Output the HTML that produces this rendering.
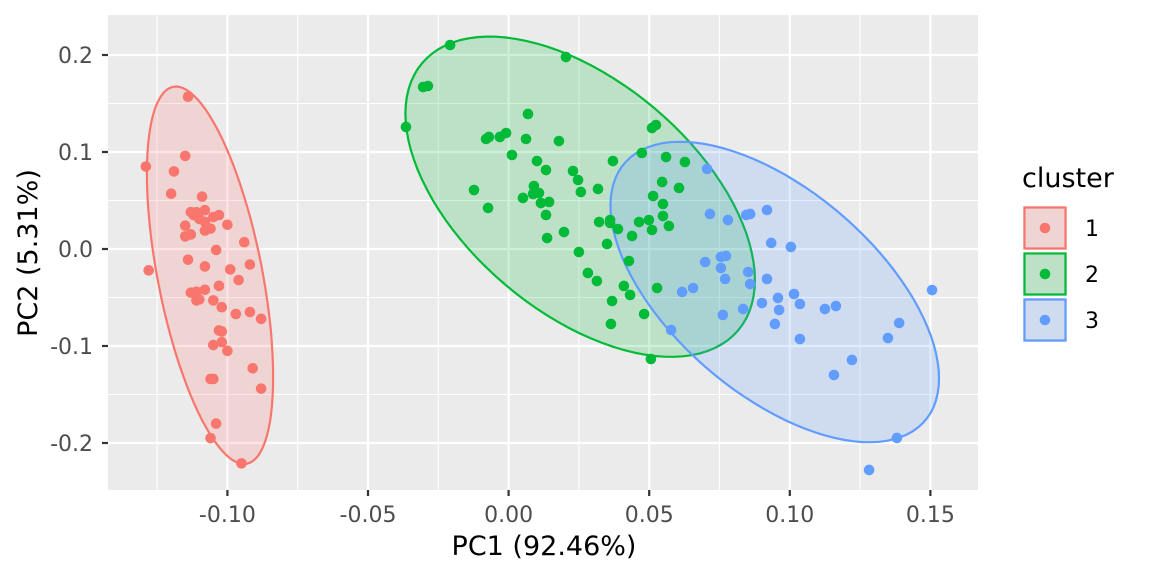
<!DOCTYPE html>
<html><head><meta charset="utf-8"><style>
body{margin:0;background:#fff;}
svg{display:block;font-family:"DejaVu Sans","Liberation Sans",sans-serif;}
</style></head><body>
<svg id="chart" width="1152" height="576">
<rect x="0" y="0" width="1152" height="576" fill="#fff"/>
<rect x="108" y="15" width="870" height="475" fill="#EBEBEB"/>
<g id="grid"></g>
<g id="ellipses"></g>
<g id="points"></g>
<g id="xticks"></g>
<g id="yticks"></g>
<text x="544" y="555" font-size="27" text-anchor="middle" fill="#000">PC1 (92.46%)</text>
<text transform="translate(37,253) rotate(-90)" font-size="27" text-anchor="middle" fill="#000">PC2 (5.31%)</text>
<g id="legend">
<text x="1022" y="187" font-size="27" fill="#000">cluster</text>
</g>
</svg>
<script>
const xTicks=[-0.10,-0.05,0.00,0.05,0.10,0.15];
const xTickLabels=["-0.10","-0.05","0.00","0.05","0.10","0.15"];
const yTicks=[-0.2,-0.1,0.0,0.1,0.2];
const yTickLabels=["-0.2","-0.1","0.0","0.1","0.2"];
const clusters=["1","2","3"];
const colors=["#F8766D","#00BA38","#619CFF"];
const c1x=[-0.114,-0.129,-0.115,-0.119,-0.120,-0.128,-0.113,-0.111,-0.109,-0.108,-0.110,-0.112,-0.115,-0.108,-0.105,-0.106,-0.103,-0.108,-0.100,-0.115,-0.113,-0.094,-0.104,-0.114,-0.099,-0.092,-0.108,-0.096,-0.103,-0.108,-0.111,-0.110,-0.105,-0.102,-0.097,-0.092,-0.088,-0.103,-0.102,-0.105,-0.102,-0.100,-0.091,-0.105,-0.106,-0.088,-0.104,-0.106,-0.095,-0.111,-0.113];
const c1y=[0.157,0.085,0.096,0.080,0.057,-0.022,0.038,0.038,0.054,0.040,0.031,0.035,0.024,0.028,0.033,0.021,0.035,0.019,0.025,0.013,0.015,0.007,-0.001,-0.011,-0.021,-0.016,-0.018,-0.032,-0.038,-0.042,-0.044,-0.052,-0.053,-0.060,-0.067,-0.065,-0.072,-0.084,-0.085,-0.099,-0.096,-0.105,-0.123,-0.134,-0.134,-0.144,-0.180,-0.195,-0.221,-0.053,-0.045];
const c2x=[-0.0208,0.0204,-0.0304,-0.0287,-0.0365,-0.0080,-0.0031,-0.0009,0.0069,0.0062,-0.0070,0.0012,0.0179,0.0101,0.0229,0.0133,0.0371,0.0474,0.0524,0.0510,0.0560,0.0627,0.0606,0.0546,0.0514,0.0247,0.0257,0.0318,-0.0123,-0.0073,0.0090,0.0087,0.0108,0.0051,0.0115,0.0144,0.0133,0.0197,0.0137,0.0361,0.0361,0.0322,0.0389,0.0464,0.0499,0.0549,0.0549,0.0510,0.0570,0.0439,0.0250,0.0350,0.0428,0.0282,0.0314,0.0410,0.0368,0.0432,0.0528,0.0482,0.0364,0.0506];
const c2y=[0.2103,0.1979,0.1670,0.1680,0.1258,0.1134,0.1155,0.1196,0.1392,0.1134,0.1155,0.0969,0.1113,0.0907,0.0804,0.0814,0.0907,0.0990,0.1278,0.1247,0.0948,0.0897,0.0629,0.0691,0.0546,0.0711,0.0588,0.0619,0.0608,0.0423,0.0649,0.0567,0.0577,0.0526,0.0474,0.0485,0.0351,0.0175,0.0113,0.0299,0.0268,0.0278,0.0206,0.0278,0.0299,0.0340,0.0464,0.0196,0.0237,0.0134,-0.0031,0.0052,-0.0124,-0.0247,-0.0330,-0.0381,-0.0536,-0.0474,-0.0402,-0.0670,-0.0773,-0.1134];
const c3x=[0.0706,0.0716,0.0780,0.0845,0.0859,0.0919,0.0934,0.1004,0.0699,0.0755,0.0773,0.0755,0.0770,0.0852,0.0859,0.0919,0.0617,0.0656,0.0762,0.0834,0.0901,0.0958,0.0962,0.1015,0.1036,0.0947,0.1125,0.1164,0.1036,0.0578,0.1506,0.1389,0.1349,0.1221,0.1157,0.1381,0.1282];
const c3y=[0.0825,0.0361,0.0299,0.0351,0.0361,0.0402,0.0062,0.0021,-0.0134,-0.0082,-0.0072,-0.0196,-0.0309,-0.0237,-0.0361,-0.0309,-0.0443,-0.0402,-0.0680,-0.0619,-0.0557,-0.0505,-0.0629,-0.0464,-0.0567,-0.0773,-0.0619,-0.0588,-0.0928,-0.0835,-0.0423,-0.0763,-0.0918,-0.1144,-0.1299,-0.1948,-0.2278];

const NS="http://www.w3.org/2000/svg";
const X=v=>508.6+v*2812;
const Y=v=>249-v*970;
function mk(tag,attrs,parent){const e=document.createElementNS(NS,tag);for(const k in attrs)e.setAttribute(k,attrs[k]);parent.appendChild(e);return e;}
const grid=document.getElementById('grid');
[-0.125,-0.075,-0.025,0.025,0.075,0.125].forEach(v=>{const l=mk('line',{x1:X(v),x2:X(v),y1:15,y2:490,stroke:'#fff','stroke-width':1.1},grid);

});
[-0.15,-0.05,0.05,0.15].forEach(v=>{const l=mk('line',{x1:108,x2:978,y1:Y(v),y2:Y(v),stroke:'#fff','stroke-width':1.1},grid);

});
const xg=document.getElementById('xticks');
xTicks.forEach((v,i)=>{const l=mk('line',{x1:X(v),x2:X(v),y1:15,y2:490,stroke:'#fff','stroke-width':2.2},grid);


const t=mk('line',{x1:X(v),x2:X(v),y1:490,y2:496,stroke:'#333','stroke-width':2.2},xg);


const tx=mk('text',{x:X(v),y:522,'font-size':22,'text-anchor':'middle',fill:'#4D4D4D'},xg);tx.textContent=xTickLabels[i];

});
const yg=document.getElementById('yticks');
yTicks.forEach((v,i)=>{const l=mk('line',{x1:108,x2:978,y1:Y(v),y2:Y(v),stroke:'#fff','stroke-width':2.2},grid);


const t=mk('line',{x1:102,x2:108,y1:Y(v),y2:Y(v),stroke:'#333','stroke-width':2.2},yg);


const tx=mk('text',{x:93,y:Y(v)+8,'font-size':22,'text-anchor':'end',fill:'#4D4D4D'},yg);tx.textContent=yTickLabels[i];

});

const data=[[c1x,c1y],[c2x,c2y],[c3x,c3y]];
const eg=document.getElementById('ellipses'),pg=document.getElementById('points');
data.forEach((d,k)=>{
 const xs=d[0],ys=d[1],n=xs.length;
 let mx=0,my=0;for(let i=0;i<n;i++){mx+=xs[i];my+=ys[i];}mx/=n;my/=n;
 let sxx=0,syy=0,sxy=0;for(let i=0;i<n;i++){const a=xs[i]-mx,b=ys[i]-my;sxx+=a*a;syy+=b*b;sxy+=a*b;}
 sxx/=(n-1);syy/=(n-1);sxy/=(n-1);
 const l11=Math.sqrt(sxx),l21=sxy/l11,l22=Math.sqrt(syy-l21*l21);
 const r=Math.sqrt(2*3.16);
 let p='';
 for(let j=0;j<=100;j++){const t=j/100*2*Math.PI,u=Math.cos(t),w=Math.sin(t);
  const ex=mx+r*(l11*u),ey=my+r*(l21*u+l22*w);
  p+=(j?'L':'M')+X(ex).toFixed(1)+','+Y(ey).toFixed(1);}
 const e=mk('path',{d:p+'Z',fill:colors[k],'fill-opacity':0.2,stroke:colors[k],'stroke-width':2.2},eg);
 
 
 for(let i=0;i<n;i++){const c=mk('circle',{cx:X(xs[i]),cy:Y(ys[i]),r:5.3,fill:colors[k]},pg);
  
  }
});
const lg=document.getElementById('legend');
clusters.forEach((c,k)=>{const y0=206+k*46;
 const bg=mk('rect',{x:1023,y:y0,width:44,height:44,fill:'#EBEBEB'},lg);
 
 
 const b=mk('rect',{x:1024.5,y:y0+1.5,width:41,height:41,fill:colors[k],'fill-opacity':0.2,stroke:colors[k],'stroke-width':2.2},lg);
 
 
 const d=mk('circle',{cx:1045,cy:y0+22,r:5.3,fill:colors[k]},lg);
 
 
 const t=mk('text',{x:1085,y:y0+30,'font-size':22,fill:'#000'},lg);t.textContent=c;
 
 });
</script>
</body></html>
